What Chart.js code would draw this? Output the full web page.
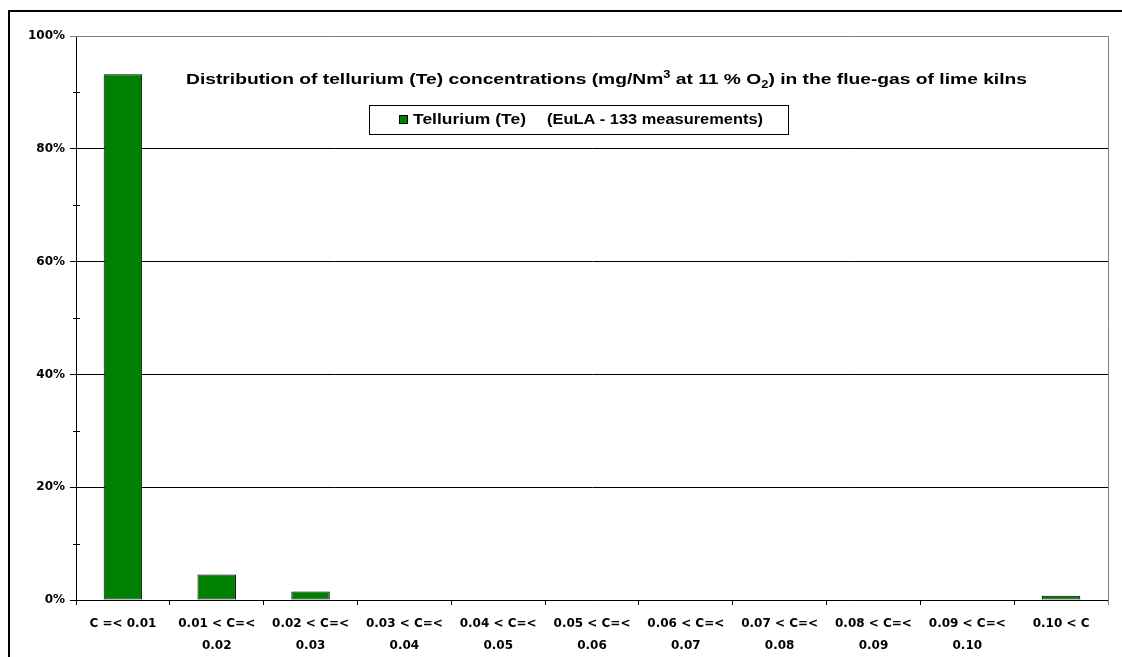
<!DOCTYPE html>
<html>
<head>
<meta charset="utf-8">
<script src="https://cdn.jsdelivr.net/npm/chart.js@4/dist/chart.umd.min.js"></script>
<style>
  html, body { margin: 0; padding: 0; background: #fff; overflow: hidden; }
  #frame { position: absolute; left: 8px; top: 10px; width: 1200px; height: 700px; border: 2px solid #000; }
  #wrap { position: absolute; left: 0; top: 0; width: 1122px; height: 657px; }
</style>
</head>
<body>
<div id="frame"></div>
<div id="wrap"><canvas id="te_chart" width="1122" height="657"></canvas></div>
<script>
const categories = [
  ["C =< 0.01"],
  ["0.01 < C=<", "0.02"],
  ["0.02 < C=<", "0.03"],
  ["0.03 < C=<", "0.04"],
  ["0.04 < C=<", "0.05"],
  ["0.05 < C=<", "0.06"],
  ["0.06 < C=<", "0.07"],
  ["0.07 < C=<", "0.08"],
  ["0.08 < C=<", "0.09"],
  ["0.09 < C=<", "0.10"],
  ["0.10 < C"],
];
// share of the 133 measurements, in %
const tellurium = [93.2, 4.5, 1.5, 0, 0, 0, 0, 0, 0, 0, 0.75];
const yTicks = [0, 20, 40, 60, 80, 100];
const yMinorTicks = [10, 30, 50, 70, 90];
const seriesName = "Tellurium (Te)";
const seriesNote = "(EuLA - 133 measurements)";

const FONT = "'DejaVu Sans', Arial, sans-serif";
const ARIAL = "'Liberation Sans', Arial, sans-serif";

// title with superscript / subscript, legend box, minor ticks, plot border
const extras = {
  id: "extras",
  afterDraw(chart) {
    const ctx = chart.ctx;
    const area = chart.chartArea;
    const y = chart.scales.y;

    ctx.save();
    // plot area top and right border (grey)
    ctx.strokeStyle = "#808080";
    ctx.lineWidth = 1;
    const r = Math.round(area.right) + 0.5;
    const t = Math.round(area.top) + 0.5;
    ctx.beginPath();
    ctx.moveTo(area.left, t);
    ctx.lineTo(r, t);
    ctx.lineTo(r, area.bottom + 5);
    ctx.stroke();

    // minor ticks on y axis
    ctx.strokeStyle = "#000";
    yMinorTicks.forEach((v) => {
      const py = Math.round(y.getPixelForValue(v)) + 0.5;
      ctx.beginPath();
      ctx.moveTo(area.left - 3, py);
      ctx.lineTo(area.left + 4, py);
      ctx.stroke();
    });

    // title
    const parts = [
      { t: "Distribution of tellurium (Te) concentrations (mg/Nm", s: 15, dy: 0 },
      { t: "3", s: 10, dy: -6 },
      { t: " at 11 % O", s: 15, dy: 0 },
      { t: "2", s: 10, dy: 4 },
      { t: ") in the flue-gas of lime kilns", s: 15, dy: 0 },
    ];
    let total = 0;
    parts.forEach((p) => {
      ctx.font = "bold " + p.s + "px " + ARIAL;
      p.w = ctx.measureText(p.t).width;
      total += p.w;
    });
    const titleLeft = 186, titleWidth = 841;
    ctx.save();
    ctx.translate(titleLeft, 0);
    ctx.scale(titleWidth / total, 1);
    let x = 0;
    ctx.fillStyle = "#000";
    ctx.textBaseline = "alphabetic";
    ctx.textAlign = "left";
    parts.forEach((p) => {
      ctx.font = "bold " + p.s + "px " + ARIAL;
      ctx.fillText(p.t, x, 84 + p.dy);
      x += p.w;
    });
    ctx.restore();

    // legend
    const lx = 369, ly = 105, lw = 419, lh = 29;
    ctx.fillStyle = "#fff";
    ctx.fillRect(lx, ly, lw, lh);
    ctx.strokeStyle = "#000";
    ctx.strokeRect(lx + 0.5, ly + 0.5, lw, lh);
    ctx.fillStyle = "#008000";
    ctx.fillRect(399, 115, 9, 9);
    ctx.strokeRect(399.5, 115.5, 8, 8);
    ctx.fillStyle = "#000";
    ctx.font = "bold 15px " + ARIAL;
    ctx.textBaseline = "middle";
    const fitText = (s, x0, w) => {
      const m = ctx.measureText(s).width;
      ctx.save();
      ctx.translate(x0, 120);
      ctx.scale(w / m, 1);
      ctx.fillText(s, 0, 0);
      ctx.restore();
    };
    fitText(seriesName, 413, 113);
    fitText(seriesNote, 547, 216);
    ctx.restore();
  },
};

const ctx = document.getElementById("te_chart").getContext("2d");
const myChart = new Chart(ctx, {
  type: "bar",
  data: {
    labels: categories,
    datasets: [
      {
        label: seriesName + " " + seriesNote,
        data: tellurium,
        backgroundColor: "#008000",
        borderColor: "#000",
        borderWidth: 1,
        borderSkipped: false,
        categoryPercentage: 1,
        barPercentage: 0.41,
      },
    ],
  },
  options: {
    responsive: false,
    animation: false,
    layout: { padding: { left: 0, right: 14, top: 36, bottom: 0 } },
    plugins: {
      legend: { display: false },
      title: { display: false },
      tooltip: { enabled: false },
    },
    scales: {
      x: {
        offset: true,
        afterFit: (scale) => {
          scale.height = 57;
        },
        grid: {
          offset: true,
          drawOnChartArea: false,
          tickLength: 5,
          color: "#000",
        },
        border: { color: "#000" },
        ticks: {
          color: "#000",
          font: { family: FONT, size: 12, weight: "bold", lineHeight: 1.85 },
          maxRotation: 0,
          autoSkip: false,
          padding: 8,
        },
      },
      y: {
        min: 0,
        max: 100,
        afterBuildTicks: (scale) => {
          scale.ticks = yTicks.map((v) => ({ value: v }));
        },
        afterFit: (scale) => {
          scale.width = 76;
        },
        grid: {
          color: (c) => (c.tick && c.tick.value === 100 ? "#808080" : "#000"),
          tickLength: 6,
        },
        border: { color: "#000" },
        ticks: {
          color: "#000",
          font: { family: FONT, size: 12, weight: "bold" },
          padding: 5,
          callback: (value) => {
            return value + "%";
          },
        },
      },
    },
  },
  plugins: [extras],
});
</script>
</body>
</html>
